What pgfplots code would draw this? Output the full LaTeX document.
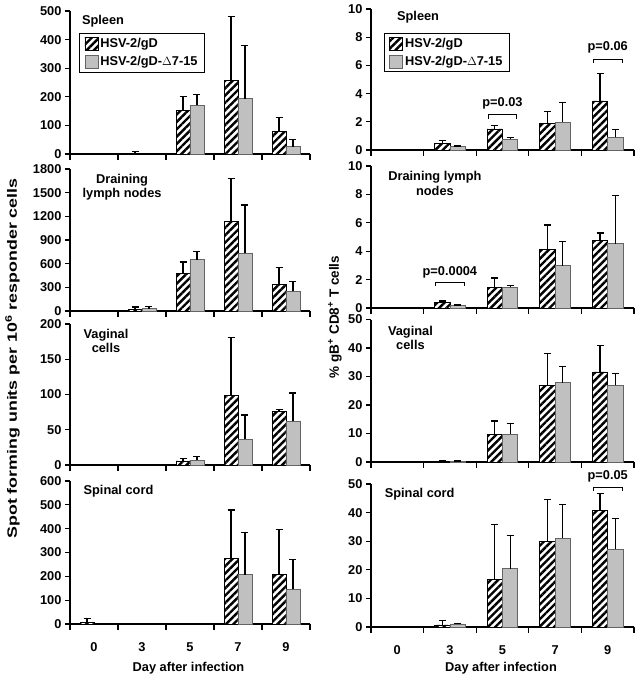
\documentclass[border=0pt]{standalone}
\usepackage{pgfplots}
\pgfplotsset{compat=1.18}
\usepackage{fontspec}
\setmainfont{Liberation Sans}
\usetikzlibrary{patterns.meta}
\definecolor{bargray}{RGB}{192,192,192}
\definecolor{edgegray}{RGB}{100,100,100}
\newcommand{\fs}{\fontsize{12.8}{14.5}\selectfont\bfseries}
\pgfplotsset{
  panel/.style={
    scale only axis,
    ybar, bar width=0.29,
    axis x line*=bottom, axis y line*=left,
    axis line style={line width=1.1pt, -},
    xmin=-0.5, xmax=4.5, ymin=0,
    xtick={0,1,2,3,4}, xticklabels={},
    major x tick style={draw=none},
    minor xtick={-0.5,0.5,1.5,2.5,3.5,4.5},
    minor x tick style={line width=1.1pt, black},
    y tick style={line width=1.1pt, black},
    tick align=outside, major tick length=5pt, minor tick length=6pt,
    tick label style={font=\fs},
    /pgf/number format/assume math mode=true,
    /pgf/number format/1000 sep={},
    scaled y ticks=false,
    clip=false,
    legend image code/.code={\draw[#1] (0pt,-6.5pt) rectangle (13pt,6.5pt);},
    legend cell align=left,
    xticklabel style={yshift=-10pt},
  },
  errs/.style={error bars/.cd, y dir=plus, y explicit,
    error bar style={line width=1.2pt, black},
    error mark options={rotate=90, line width=1.2pt, mark size=3.5pt, black}},
  hatched/.style={bar shift=-0.145, draw=black, line width=0.7pt,
    preaction={fill=white},
    pattern={Lines[angle=45,distance=5.2pt,line width=2.4pt]}, pattern color=black, errs},
  grayb/.style={bar shift=0.145, draw=edgegray, line width=0.7pt, fill=bargray, errs},
  leg/.style={legend style={at={#1}, anchor=north west, draw=black, line width=1.2pt,
    font=\fs, inner xsep=5pt, inner ysep=3pt, row sep=3pt, /tikz/every even column/.append style={column sep=3pt}}},
}
\begin{document}
\begin{tikzpicture}
\useasboundingbox (0,0) rectangle (638pt,681pt);
% ---------------- Left column ----------------
\begin{axis}[panel, at={(70pt,527pt)}, anchor=south west, width=240pt, height=143pt,
  ymax=500, ytick={0,100,...,500}, leg={(rel axis cs:0.0375,0.846)}]
\addplot[hatched] table[x=x,y=y,y error=e,row sep=\\]{x y e\\ 1 2 6\\ 2 151 50\\ 3 257 223\\ 4 79 49\\};
\addlegendentry{HSV-2/gD}
\addplot[grayb] table[x=x,y=y,y error=e,row sep=\\]{x y e\\ 2 171 37\\ 3 193 187\\ 4 26 26\\};
\addlegendentry{HSV-2/gD-$\Delta$7-15}
\node[font=\fs] at (rel axis cs:0.1375,0.93) {Spleen};
\end{axis}
\begin{axis}[panel, at={(70pt,370pt)}, anchor=south west, width=240pt, height=142pt,
  ymax=1800, ytick={0,300,...,1800}]
\addplot[hatched] table[x=x,y=y,y error=e,row sep=\\]{x y e\\ 1 25 25\\ 2 477 144\\ 3 1136 541\\ 4 338 215\\};
\addplot[grayb] table[x=x,y=y,y error=e,row sep=\\]{x y e\\ 1 30 30\\ 2 651 101\\ 3 731 612\\ 4 249 123\\};
\node[font=\fs, align=center] at (rel axis cs:0.217,0.873) {Draining\\lymph nodes};
\end{axis}
\begin{axis}[panel, at={(70pt,216pt)}, anchor=south west, width=240pt, height=141pt,
  ymax=200, ytick={0,50,...,200}]
\addplot[hatched] table[x=x,y=y,y error=e,row sep=\\]{x y e\\ 2 5.7 3.3\\ 3 98.6 82\\ 4 76 3\\};
\addplot[grayb] table[x=x,y=y,y error=e,row sep=\\]{x y e\\ 2 7 5\\ 3 36.8 34\\ 4 62 40\\};
\node[font=\fs, align=center] at (rel axis cs:0.15,0.88) {Vaginal\\cells};
\end{axis}
\begin{axis}[panel, at={(70pt,57pt)}, anchor=south west, width=240pt, height=143pt,
  ymax=600, ytick={0,100,...,600}, xticklabels={0,3,5,7,9}]
\addplot[hatched] table[x=x,y=y,y error=e,row sep=\\]{x y e\\ 0 5 17\\ 3 274 204\\ 4 207 190\\};
\addplot[grayb] table[x=x,y=y,y error=e,row sep=\\]{x y e\\ 3 207 177\\ 4 145 125\\};
\node[font=\fs] at (rel axis cs:0.202,0.93) {Spinal cord};
\end{axis}
% ---------------- Right column ----------------
\begin{axis}[panel, at={(371pt,531pt)}, anchor=south west, width=263pt, height=141pt,
  ymax=10, ytick={0,2,...,10}, leg={(rel axis cs:0.049,0.832)}]
\addplot[hatched] table[x=x,y=y,y error=e,row sep=\\]{x y e\\ 1 0.47 0.19\\ 2 1.49 0.26\\ 3 1.9 0.85\\ 4 3.48 1.92\\};
\addlegendentry{HSV-2/gD}
\addplot[grayb] table[x=x,y=y,y error=e,row sep=\\]{x y e\\ 1 0.24 0.04\\ 2 0.76 0.14\\ 3 1.97 1.42\\ 4 0.9 0.57\\};
\addlegendentry{HSV-2/gD-$\Delta$7-15}
\node[font=\fs] at (rel axis cs:0.179,0.945) {Spleen};
\draw[line width=0.9pt] (axis cs:1.73,2.18) -- (axis cs:1.73,2.5) -- (axis cs:2.27,2.5) -- (axis cs:2.27,2.18);
\node[font=\fs] at (axis cs:2,3.3) {p=0.03};
\draw[line width=0.9pt] (axis cs:3.72,6.16) -- (axis cs:3.72,6.45) -- (axis cs:4.28,6.45) -- (axis cs:4.28,6.16);
\node[font=\fs] at (axis cs:4,7.27) {p=0.06};
\end{axis}
\begin{axis}[panel, at={(371pt,373pt)}, anchor=south west, width=263pt, height=142pt,
  ymax=10, ytick={0,2,...,10}]
\addplot[hatched] table[x=x,y=y,y error=e,row sep=\\]{x y e\\ 1 0.42 0.07\\ 2 1.46 0.65\\ 3 4.15 1.7\\ 4 4.74 0.54\\};
\addplot[grayb] table[x=x,y=y,y error=e,row sep=\\]{x y e\\ 1 0.16 0.05\\ 2 1.46 0.14\\ 3 2.98 1.72\\ 4 4.53 3.38\\};
\node[font=\fs, align=center] at (rel axis cs:0.243,0.878) {Draining lymph\\nodes};
\draw[line width=0.9pt] (axis cs:0.73,1.55) -- (axis cs:0.73,1.81) -- (axis cs:1.27,1.81) -- (axis cs:1.27,1.55);
\node[font=\fs] at (axis cs:1,2.54) {p=0.0004};
\end{axis}
\begin{axis}[panel, at={(371pt,219pt)}, anchor=south west, width=263pt, height=142.5pt,
  ymax=50, ytick={0,10,...,50}]
\addplot[hatched] table[x=x,y=y,y error=e,row sep=\\]{x y e\\ 1 0.3 0.2\\ 2 9.77 4.6\\ 3 26.9 11.1\\ 4 31.6 9.4\\};
\addplot[grayb] table[x=x,y=y,y error=e,row sep=\\]{x y e\\ 1 0.2 0.15\\ 2 9.77 3.8\\ 3 27.8 5.7\\ 4 26.9 4.1\\};
\node[font=\fs, align=center] at (rel axis cs:0.15,0.87) {Vaginal\\cells};
\end{axis}
\begin{axis}[panel, at={(371pt,54pt)}, anchor=south west, width=263pt, height=143pt,
  ymax=50, ytick={0,10,...,50}, xticklabels={0,3,5,7,9}]
\addplot[hatched] table[x=x,y=y,y error=e,row sep=\\]{x y e\\ 1 0.7 1.6\\ 2 16.6 19.3\\ 3 29.9 14.6\\ 4 40.8 5.9\\};
\addplot[grayb] table[x=x,y=y,y error=e,row sep=\\]{x y e\\ 1 1.05 0.25\\ 2 20.4 11.6\\ 3 31 11.8\\ 4 27.1 10.8\\};
\node[font=\fs] at (rel axis cs:0.185,0.928) {Spinal cord};
\draw[line width=0.9pt] (axis cs:3.72,47.66) -- (axis cs:3.72,48.85) -- (axis cs:4.28,48.85) -- (axis cs:4.28,47.66);
\node[font=\fs] at (axis cs:4,52.55) {p=0.05};
\end{axis}
% axis titles
\node[rotate=90, inner sep=0pt] at (12.5pt,322.5pt) {\scalebox{1.32}[1]{\fontsize{13.5}{15}\selectfont\bfseries Spot forming units per 10\textsuperscript{6} responder cells}};
\node[rotate=90, inner sep=0pt] at (335pt,364pt) {\fontsize{13.5}{15}\selectfont\bfseries \% gB\textsuperscript{+} CD8\textsuperscript{+} T cells};
\node[font=\fs] at (188.5pt,13pt) {Day after infection};
\node[font=\fs] at (501pt,13pt) {Day after infection};
\end{tikzpicture}
\end{document}
